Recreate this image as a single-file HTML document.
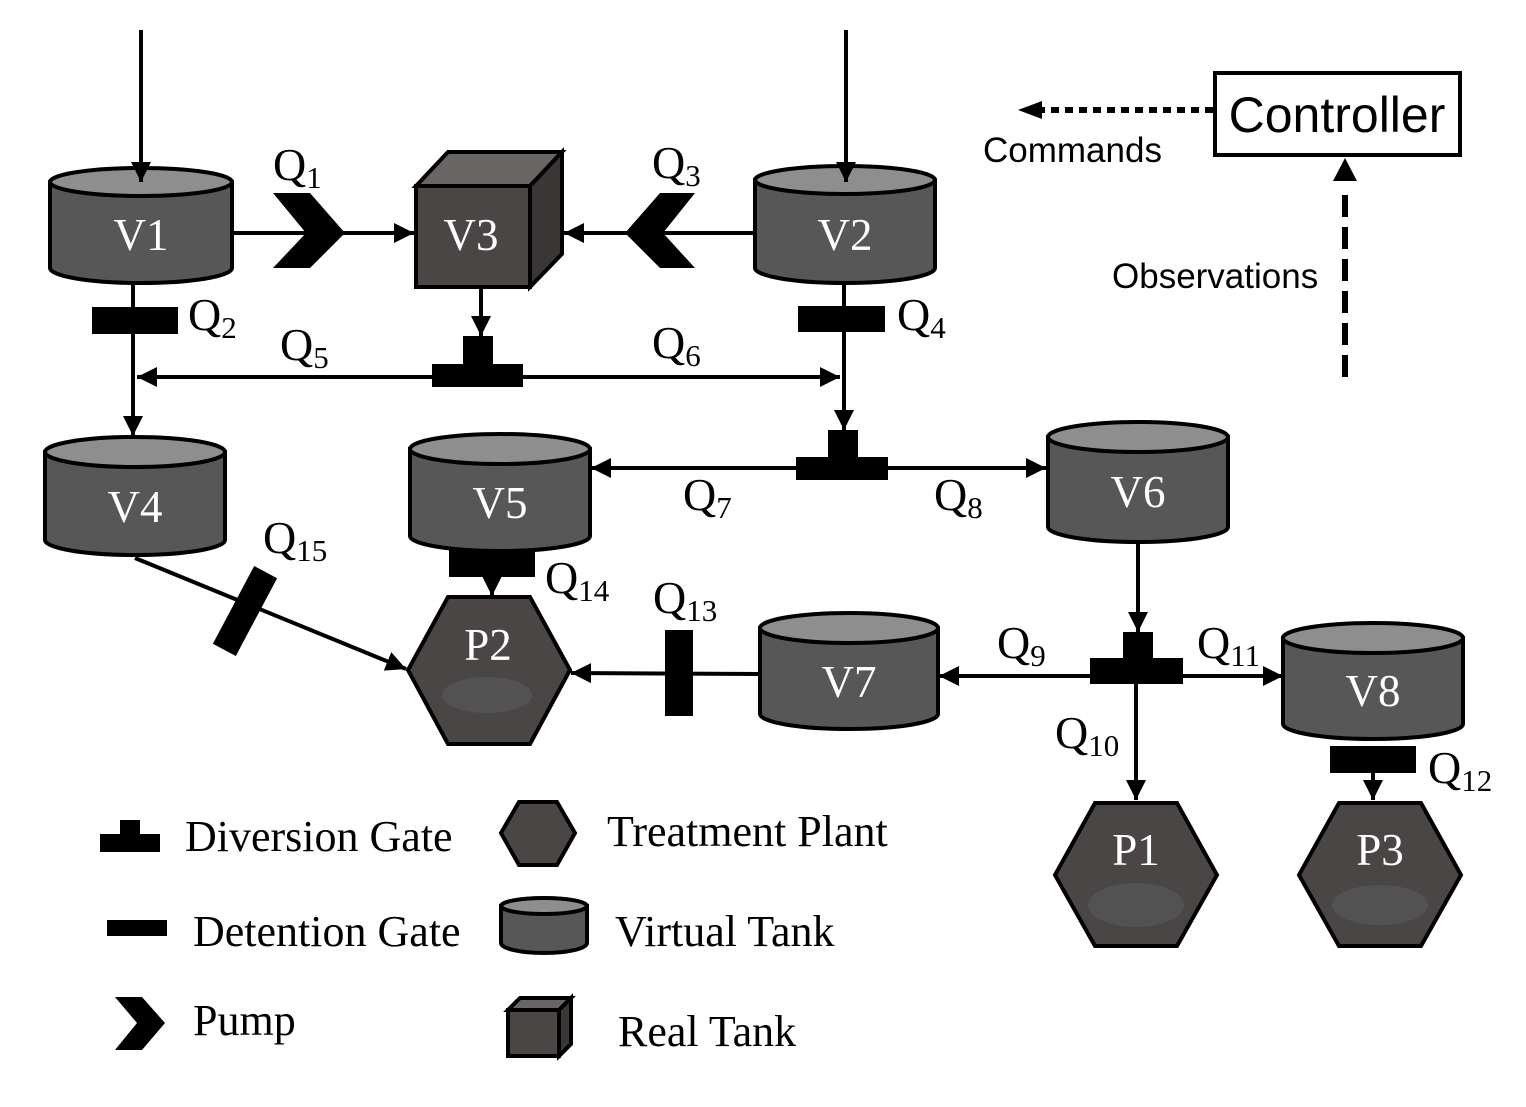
<!DOCTYPE html>
<html><head><meta charset="utf-8"><style>
html,body{margin:0;padding:0;background:#fff;}
svg{display:block;}
.q{font-family:"Liberation Serif",serif;font-size:46px;fill:#000;}
.s{font-size:31px;}
.t{font-family:"Liberation Serif",serif;font-size:45px;fill:#fff;}
.l{font-family:"Liberation Serif",serif;font-size:44px;fill:#000;}
.a{font-family:"Liberation Sans",sans-serif;fill:#000;}
</style></head><body>
<svg width="1526" height="1107" viewBox="0 0 1526 1107" xmlns="http://www.w3.org/2000/svg">
<defs>
<marker id="ar" viewBox="0 0 10 10" refX="10" refY="5" markerWidth="5" markerHeight="5" orient="auto-start-reverse" markerUnits="strokeWidth">
<path d="M0,0 L10,5 L0,10 Z" fill="#000"/></marker>
</defs>
<g stroke="#000" stroke-width="4" fill="none">
<line x1="232" y1="233" x2="414" y2="233" marker-end="url(#ar)"/>
<line x1="755" y1="233" x2="564" y2="233" marker-end="url(#ar)"/>
<line x1="133" y1="280" x2="133" y2="436" marker-end="url(#ar)"/>
<line x1="481" y1="287" x2="481" y2="336" marker-end="url(#ar)"/>
<line x1="137" y1="377" x2="840" y2="377" marker-start="url(#ar)" marker-end="url(#ar)"/>
<line x1="844" y1="282" x2="844" y2="430" marker-end="url(#ar)"/>
<line x1="591" y1="468" x2="1046" y2="468" marker-start="url(#ar)" marker-end="url(#ar)"/>
<line x1="1138" y1="540" x2="1138" y2="632" marker-end="url(#ar)"/>
<line x1="939" y1="676" x2="1283" y2="676" marker-start="url(#ar)" marker-end="url(#ar)"/>
<line x1="1136" y1="684" x2="1136" y2="800" marker-end="url(#ar)"/>
<line x1="760" y1="674" x2="571" y2="673" marker-end="url(#ar)"/>
<line x1="135" y1="558" x2="406" y2="669" marker-end="url(#ar)"/>
<line x1="492" y1="560" x2="492" y2="596" marker-end="url(#ar)"/>
<line x1="1373" y1="760" x2="1373" y2="800" marker-end="url(#ar)"/>
</g>
<!-- controller -->
<rect x="1215" y="73" width="245" height="82" fill="#fff" stroke="#000" stroke-width="4"/>
<text x="1337" y="132" text-anchor="middle" class="a" font-size="50">Controller</text>
<line x1="1213" y1="110" x2="1040" y2="110" stroke="#000" stroke-width="6" stroke-dasharray="8,6"/>
<path d="M1042,101 L1018,110 L1042,119 Z" fill="#000"/>
<text x="983" y="162" class="a" font-size="35">Commands</text>
<line x1="1345" y1="377" x2="1345" y2="185" stroke="#000" stroke-width="6" stroke-dasharray="22,10"/>
<path d="M1333,181 L1345,158 L1357,181 Z" fill="#000"/>
<text x="1112" y="288" class="a" font-size="35">Observations</text>

<!-- cylinders -->
<g stroke="#000" stroke-width="4">
<path d="M50,182 L50,268 A91,15 0 0 0 232,268 L232,182 Z" fill="#575757"/><ellipse cx="141" cy="182" rx="91" ry="14" fill="#8e8e8e"/>
<path d="M755,180 L755,268 A90,15 0 0 0 935,268 L935,180 Z" fill="#575757"/><ellipse cx="845" cy="180" rx="90" ry="14" fill="#8e8e8e"/>
<path d="M45,452 L45,540 A90,15 0 0 0 225,540 L225,452 Z" fill="#575757"/><ellipse cx="135" cy="452" rx="90" ry="15" fill="#8e8e8e"/>
<path d="M410,449 L410,536 A90,15 0 0 0 590,536 L590,449 Z" fill="#575757"/><ellipse cx="500" cy="449" rx="90" ry="15" fill="#8e8e8e"/>
<path d="M1048,437 L1048,527 A90,15 0 0 0 1228,527 L1228,437 Z" fill="#575757"/><ellipse cx="1138" cy="437" rx="90" ry="15" fill="#8e8e8e"/>
<path d="M760,628 L760,714 A89,15 0 0 0 938,714 L938,628 Z" fill="#575757"/><ellipse cx="849" cy="628" rx="89" ry="15" fill="#8e8e8e"/>
<path d="M1283,638 L1283,724 A90,15 0 0 0 1463,724 L1463,638 Z" fill="#575757"/><ellipse cx="1373" cy="638" rx="90" ry="15" fill="#8e8e8e"/>
<path d="M501,906 L501,943 A43,10 0 0 0 587,943 L587,906 Z" fill="#575757"/><ellipse cx="544" cy="906" rx="43" ry="8" fill="#8e8e8e"/>
<!-- cube V3 -->
<path d="M416,186 L448,152 L562,152 L530,186 Z" fill="#6a6565"/>
<path d="M530,186 L562,152 L562,254 L530,287 Z" fill="#3a3636"/>
<rect x="416" y="186" width="114" height="101" fill="#4b4646"/>
<!-- legend cube -->
<path d="M508,1010 L520,998 L571,998 L559,1010 Z" fill="#6a6565"/>
<path d="M559,1010 L571,998 L571,1044 L559,1056 Z" fill="#3a3636"/>
<rect x="508" y="1010" width="51" height="46" fill="#4b4646"/>
<!-- hexagons -->
<polygon points="448,597 530,597 570,670 530,744 448,744 408,670" fill="#4b4646"/>
<polygon points="1095,803 1177,803 1217,875 1177,946 1095,946 1055,875" fill="#4b4646"/>
<polygon points="1339,803 1421,803 1461,875 1421,946 1339,946 1299,875" fill="#4b4646"/>
<polygon points="519,802 557,802 575,833 557,865 519,865 501,833" fill="#4b4646"/>
</g>
<g stroke="#000" stroke-width="4" fill="none">
<line x1="141" y1="30" x2="141" y2="182" marker-end="url(#ar)"/>
<line x1="846" y1="30" x2="846" y2="182" marker-end="url(#ar)"/>
</g>
<g fill="#555" opacity="0.8">
<ellipse cx="487" cy="695" rx="45" ry="18"/>
<ellipse cx="1136" cy="905" rx="48" ry="22"/>
<ellipse cx="1380" cy="905" rx="48" ry="20"/>
</g>
<!-- tank labels -->
<text x="141" y="250" class="t" text-anchor="middle">V1</text>
<text x="471" y="250" class="t" text-anchor="middle">V3</text>
<text x="845" y="250" class="t" text-anchor="middle">V2</text>
<text x="135" y="522" class="t" text-anchor="middle">V4</text>
<text x="500" y="518" class="t" text-anchor="middle">V5</text>
<text x="1138" y="507" class="t" text-anchor="middle">V6</text>
<text x="849" y="697" class="t" text-anchor="middle">V7</text>
<text x="1373" y="706" class="t" text-anchor="middle">V8</text>
<text x="488" y="660" class="t" text-anchor="middle">P2</text>
<text x="1136" y="865" class="t" text-anchor="middle">P1</text>
<text x="1380" y="865" class="t" text-anchor="middle">P3</text>
<!-- gates -->
<g fill="#000">
<rect x="92" y="307" width="86" height="27"/>
<rect x="798" y="306" width="87" height="26"/>
<rect x="463" y="336" width="30" height="30"/><rect x="432" y="364" width="91" height="23"/>
<rect x="828" y="430" width="30" height="30"/><rect x="796" y="457" width="92" height="23"/>
<rect x="1123" y="632" width="30" height="28"/><rect x="1090" y="658" width="93" height="26"/>
<rect x="449" y="549" width="86" height="28"/>
<rect x="1330" y="746" width="86" height="27"/>
<rect x="665" y="630" width="28" height="86"/>
<rect x="-13" y="-44" width="26" height="88" transform="translate(245,611) rotate(28)"/>
<path d="M273,193 L310,193 L345,233 L310,268 L273,268 L306,233 Z"/>
<path d="M695,193 L660,193 L625,233 L660,268 L695,268 L663,233 Z"/>
<!-- legend -->
<rect x="120" y="820" width="20" height="15"/><rect x="100" y="834" width="60" height="18"/>
<rect x="107" y="920" width="60" height="16"/>
<path d="M115,997 L142,997 L165,1023 L142,1050 L115,1050 L137,1023 Z"/>
</g>
<!-- Q labels -->
<g class="q">
<text x="273" y="180">Q<tspan class="s" dy="8">1</tspan></text>
<text x="652" y="178">Q<tspan class="s" dy="8">3</tspan></text>
<text x="188" y="330">Q<tspan class="s" dy="8">2</tspan></text>
<text x="897" y="330">Q<tspan class="s" dy="8">4</tspan></text>
<text x="280" y="360">Q<tspan class="s" dy="8">5</tspan></text>
<text x="652" y="358">Q<tspan class="s" dy="8">6</tspan></text>
<text x="683" y="510">Q<tspan class="s" dy="8">7</tspan></text>
<text x="934" y="510">Q<tspan class="s" dy="8">8</tspan></text>
<text x="263" y="553">Q<tspan class="s" dy="8">15</tspan></text>
<text x="545" y="593">Q<tspan class="s" dy="8">14</tspan></text>
<text x="653" y="613">Q<tspan class="s" dy="8">13</tspan></text>
<text x="997" y="658">Q<tspan class="s" dy="8">9</tspan></text>
<text x="1197" y="658">Q<tspan class="s" dy="8">11</tspan></text>
<text x="1055" y="748">Q<tspan class="s" dy="8">10</tspan></text>
<text x="1428" y="783">Q<tspan class="s" dy="8">12</tspan></text>
</g>
<text x="185" y="851" class="l">Diversion Gate</text>
<text x="193" y="946" class="l">Detention Gate</text>
<text x="193" y="1035" class="l">Pump</text>
<text x="607" y="846" class="l">Treatment Plant</text>
<text x="615" y="946" class="l">Virtual Tank</text>
<text x="618" y="1046" class="l">Real Tank</text>
</svg>
</body></html>
